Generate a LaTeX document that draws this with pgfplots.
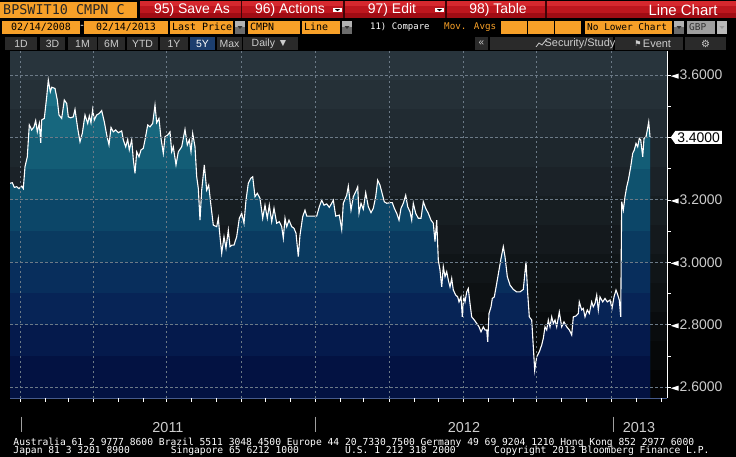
\documentclass[border=0pt]{standalone}
\usepackage{pgfplots}
\pgfplotsset{compat=1.18}
\usepackage{pgfplotstable}
\usetikzlibrary{shapes.symbols}
\usepackage{fontspec}
\setmainfont{Liberation Sans}
\newfontfamily\mono{DejaVu Sans Mono}
\newfontfamily\dejavu{DejaVu Sans}
\definecolor{bbor}{RGB}{247,160,40}
\definecolor{bbredt}{RGB}{214,40,46}
\definecolor{bbred}{RGB}{190,22,30}
\definecolor{bbredb}{RGB}{160,12,20}
\definecolor{bbgray}{RGB}{205,205,205}
\definecolor{btn}{RGB}{42,42,42}
\definecolor{btnblue}{RGB}{28,62,110}
\definecolor{xaxc}{RGB}{70,90,140}
\definecolor{gridc}{RGB}{108,122,135}
\definecolor{bgtop}{RGB}{40,52,60}
\definecolor{a1}{RGB}{3,18,66}
\definecolor{a2}{RGB}{5,26,76}
\definecolor{a3}{RGB}{7,36,86}
\definecolor{a4}{RGB}{8,46,92}
\definecolor{a5}{RGB}{10,58,96}
\definecolor{a6}{RGB}{12,70,104}
\definecolor{a7}{RGB}{15,82,110}
\definecolor{a8}{RGB}{19,93,118}
\definecolor{a9}{RGB}{23,103,126}
\definecolor{a10}{RGB}{27,112,134}
\newcommand{\fs}[1]{\fontsize{#1}{#1}\selectfont}
\newcommand{\ptr}{\tikz[baseline=-0.5ex]\fill[white] (0,0) -- (8bp,2.6bp) -- (8bp,-2.6bp) -- cycle;\hspace{1bp}}
\newcommand{\tagbox}[1]{\tikz[baseline=(n.base)]\node[fill=white,text=black,shape=signal,signal to=west,signal pointer angle=110,inner xsep=2bp,inner ysep=1.6bp](n){#1};}
\newcommand{\bands}{%
  \foreach \l/\u/\c in {2.3/2.7/a1,2.7/2.8/a2,2.8/2.9/a3,2.9/3.0/a4,3.0/3.1/a5,3.1/3.2/a6,3.2/3.3/a7,3.3/3.4/a8,3.4/3.5/a9,3.5/3.8/a10}{%
    \pgfsetfillcolor{\c}%
    \pgfpathrectanglecorners{\pgfplotspointaxisxy{0}{\l}}{\pgfplotspointaxisxy{700}{\u}}%
    \pgfusepath{fill}}}

% x: horizontal chart position (quarterly gridlines at year quarters), y: rate
\pgfplotstableread{
x y
10 3.253
12.3 3.255
14.3 3.240
16.7 3.242
19 3.236
21.7 3.244
23.3 3.236
25 3.306
27.3 3.338
29.3 3.440
31.7 3.424
34 3.434
35.7 3.454
37.3 3.418
39.3 3.445
40.7 3.383
41.7 3.456
44.3 3.461
46.7 3.530
48.3 3.584
50.3 3.546
51.7 3.561
55 3.557
57.3 3.520
59 3.472
61.7 3.461
64.3 3.520
66.7 3.509
68.3 3.466
70.7 3.463
73.3 3.466
75 3.490
77.7 3.429
80 3.386
82.3 3.413
85 3.472
87.7 3.445
89.3 3.469
91 3.447
92.7 3.490
94.3 3.456
96.7 3.472
99.3 3.477
101.7 3.486
104.3 3.450
106.7 3.408
109 3.376
111 3.432
113.3 3.418
115.7 3.424
118.3 3.415
121.7 3.421
123.3 3.392
125.7 3.370
127.7 3.394
129.3 3.360
131.7 3.392
133.3 3.330
135 3.285
136.7 3.354
139 3.338
141 3.360
143.3 3.365
145 3.392
147.7 3.440
150 3.434
152.7 3.445
155 3.504
156.7 3.447
159 3.461
161 3.397
163.3 3.349
165 3.402
167.7 3.408
170 3.418
171.7 3.354
173.3 3.370
176 3.312
178.3 3.354
181.7 3.370
185 3.426
187.3 3.376
189.3 3.392
191 3.354
192.7 3.413
195 3.370
196.7 3.274
198.3 3.237
200 3.135
201.7 3.231
204.3 3.312
206.7 3.231
208.7 3.247
210.7 3.189
213.3 3.119
216.7 3.114
218.3 3.141
220 3.082
221.7 3.029
224 3.082
226 3.045
228.3 3.103
230 3.050
232 3.055
234 3.055
236.7 3.082
239.3 3.141
241.7 3.157
244 3.125
246 3.199
248.3 3.253
250.7 3.269
252.7 3.274
255 3.210
257.3 3.221
260 3.205
262.7 3.141
265 3.183
267.3 3.141
269.3 3.183
271.7 3.130
274 3.173
276.7 3.125
279.3 3.130
281.7 3.114
283.3 3.077
285 3.141
286.7 3.114
289 3.135
291.7 3.114
294 3.109
296 3.093
298.3 3.018
300 3.087
302.7 3.146
305 3.167
306.7 3.148
316.7 3.148
319.3 3.178
321.7 3.199
324 3.183
326.7 3.187
329.3 3.176
331.7 3.189
333.3 3.199
335.7 3.148
339.3 3.151
341.7 3.105
343.3 3.189
346.7 3.215
348.3 3.244
351 3.167
353.3 3.210
355.7 3.226
357.7 3.242
359 3.157
361 3.189
363.3 3.170
365.7 3.223
368.3 3.178
371 3.159
373.3 3.173
375.7 3.210
377.7 3.263
380 3.247
381.7 3.226
384.3 3.194
386.7 3.189
390 3.191
392.3 3.191
394.3 3.173
396.7 3.157
399 3.135
401 3.173
403.3 3.189
405.7 3.215
407.7 3.178
410 3.162
411.7 3.135
413.3 3.189
415.7 3.157
418.3 3.141
421 3.141
423.3 3.194
425.7 3.173
428.3 3.157
431 3.135
433.3 3.125
435 3.066
436.7 3.135
438.3 3.007
440 2.975
441.7 2.921
443.3 2.986
445 2.954
446.7 2.970
448.3 2.943
450 2.921
451.7 2.948
453.3 2.911
455.7 2.895
457.7 2.889
459 2.873
461 2.889
462.3 2.825
463.7 2.889
465 2.873
466.7 2.905
468.3 2.916
470 2.868
471.7 2.825
474.3 2.815
476.7 2.804
479 2.793
481 2.777
483.3 2.793
485 2.783
486.7 2.783
487.7 2.745
489 2.836
491 2.857
492.3 2.884
494.3 2.889
496.7 2.932
499 2.975
501 3.012
503.3 3.050
505 3.018
507.3 2.954
510 2.927
513.3 2.913
516.7 2.905
520 2.905
523.3 2.913
526 3.002
527.7 2.900
529.3 2.825
531.7 2.815
533.3 2.729
534.7 2.654
536.7 2.697
539.3 2.713
541.7 2.735
543.3 2.756
545 2.793
546.7 2.783
548.3 2.815
550 2.793
551.7 2.825
553.3 2.804
555 2.815
556.7 2.793
559.3 2.841
561.7 2.793
564 2.809
566.7 2.793
569.3 2.783
571.7 2.767
573.3 2.825
576 2.828
578.3 2.836
579.3 2.873
581.7 2.847
583.3 2.852
585 2.825
587.3 2.847
589.3 2.836
591.7 2.873
593.3 2.857
595 2.868
596.7 2.895
598.3 2.847
600 2.889
602.7 2.873
605 2.884
607.3 2.873
610 2.879
612 2.852
614 2.889
616 2.911
617.3 2.900
619.3 2.879
620.7 2.825
621.7 3.194
623.3 3.167
625 3.210
626.7 3.242
628.3 3.263
630.7 3.306
632.7 3.349
634.3 3.360
636 3.381
637.7 3.370
639.3 3.397
640.7 3.392
642.7 3.338
644 3.397
646 3.402
647.3 3.424
648.7 3.450
650 3.402
}\series

\begin{document}
\begin{tikzpicture}
\fill[black] (0,0) rectangle (736bp,-457bp);
% banded dark chart background
\begin{scope}[x=1bp,y=1bp]
\foreach \i in {0,...,11}{
  \pgfmathsetmacro\p{max(0,100-8.5*\i)}
  \fill[bgtop!\p!black] (10,{-51-\i*29}) rectangle (667,{-51-(\i+1)*29});}
\end{scope}
\begin{axis}[
  at={(10bp,-398bp)}, anchor=south west,
  scale only axis, width=657bp, height=347bp,
  xmin=10, xmax=667, ymin=2.565, ymax=3.677,
  axis x line*=bottom, axis y line*=right,
  x axis line style={draw=xaxc, line width=1bp},
  y axis line style={draw=white, line width=0.8bp},
  xtick={20.7,93.3,166.7,241.7,315,389.7,463,536.3,611.3},
  xticklabels={},
  xmajorgrids=true,
  extra x ticks={45,68.3,118.3,143.3,191.7,216.7,265,290,340,363.3,414,438,488,513,561.3,586.3,636.3,661.3},
  extra x tick labels={},
  extra x tick style={grid=none},
  ytick={2.6,2.7,2.8,2.9,3.0,3.1,3.2,3.3,3.4,3.5,3.6},
  yticklabels={\ptr 2.6000,,\ptr 2.8000,,\ptr 3.0000,,\ptr 3.2000,,\tagbox{3.4000},,\ptr 3.6000},
  ymajorgrids=false,
  extra y ticks={2.6,2.8,3.0,3.2,3.4,3.6},
  extra y tick labels={},
  extra y tick style={grid=major},
  major grid style={gridc, dash pattern=on 2.5bp off 2.5bp, line width=0.8bp},
  major tick length=3.5bp,
  tick align=outside,
  tick style={draw=white, line width=0.7bp},
  every tick/.append style={draw=white},
  yticklabel pos=right,
  yticklabel style={anchor=west, inner sep=0pt, text=bbgray, font=\fs{14}},
  axis on top,
]
\addplot[draw=none, fill=a5, path picture={\bands}] table[x=x,y=y] {\series} \closedcycle;
\addplot[white, line width=1.1bp] table[x=x,y=y] {\series};
\end{axis}

\begin{scope}[x=1bp,y=1bp]
% ---- Row 1
\fill[bbor] (0,-2) rectangle (137,-17.5);
\node[anchor=west,inner sep=0,font=\mono\fs{13.5},text=black!85] at (3,-9.8) {BPSWIT10 CMPN C};
\fill[bbred] (140,-1) rectangle (736,-17.5);
\fill[bbredt] (140,-1) rectangle (736,-6);
\fill[bbredb] (140,-13) rectangle (736,-17.5);
\foreach \xx in {241.5,344,446,546}{\fill[black!60!bbredb] (\xx-0.8,-1) rectangle (\xx+0.8,-17.5);}
\node[white,font=\fs{14}] at (192,-9.5) {95) Save As};
\node[white,font=\fs{14}] at (290,-9.5) {96) Actions};
\fill[white] (333,-8) rectangle (342,-12);
\fill[black] (335,-9.2) -- (340,-9.2) -- (337.5,-11.2) -- cycle;
\node[white,font=\fs{14}] at (392,-9.5) {97) Edit};
\fill[white] (435,-8) rectangle (444,-12);
\fill[black] (437,-9.2) -- (442,-9.2) -- (439.5,-11.2) -- cycle;
\node[white,font=\fs{14}] at (498,-9.5) {98) Table};
\node[white,font=\fs{15}] at (683,-9.8) {Line Chart};
% ---- Row 2
\fill[bbor] (2,-20.5) rectangle (80,-34);
\node[font=\mono\fs{10},text=black] at (41,-27.2) {02/14/2008};
\node[font=\mono\fs{10},text=white] at (82,-27.2) {-};
\fill[bbor] (84,-20.5) rectangle (168,-34);
\node[font=\mono\fs{10},text=black] at (126,-27.2) {02/14/2013};
\fill[bbor] (170,-20.5) rectangle (233,-34);
\node[anchor=west,inner sep=0,font=\mono\fs{10},text=black] at (172,-27.2) {Last Price};
\fill[bbor] (248,-20.5) rectangle (300,-34);
\node[anchor=west,inner sep=0,font=\mono\fs{10},text=black] at (250,-27.2) {CMPN};
\fill[bbor] (302,-20.5) rectangle (340,-34);
\node[anchor=west,inner sep=0,font=\mono\fs{10},text=black] at (304,-27.2) {Line};
\foreach \xx in {235,342,674}{
  \fill[gray!60] (\xx,-20.5) rectangle (\xx+10,-34);
  \fill[gray!85!black] (\xx,-27) rectangle (\xx+10,-34);
  \fill[black!80] (\xx+2.5,-26) -- (\xx+7.5,-26) -- (\xx+5,-29) -- cycle;}
\node[anchor=west,inner sep=0,font=\mono\fs{9},text=white] at (370,-27.2) {11) Compare};
\node[anchor=west,inner sep=0,font=\mono\fs{9.3},text=bbor] at (444,-27.2) {Mov. Avgs};
\fill[bbor] (501,-20.5) rectangle (527,-34);
\fill[bbor] (528,-20.5) rectangle (554,-34);
\fill[bbor] (555,-20.5) rectangle (581,-34);
\fill[bbor] (585,-20.5) rectangle (672,-34);
\node[anchor=west,inner sep=0,font=\mono\fs{9.5},text=black] at (587,-27.2) {No Lower Chart};
\fill[gray!75] (687,-20.5) rectangle (715,-34);
\node[anchor=west,inner sep=0,font=\mono\fs{9.5},text=black!80] at (689,-27.2) {GBP};
\fill[gray!55] (717,-20.5) rectangle (727,-34);
\fill[gray!80] (719.5,-26) -- (724.5,-26) -- (722,-29) -- cycle;
% ---- Row 3
\foreach \a/\b/\t in {5/37/1D,40/65/3D,68/97/1M,98/125/6M,127/158/YTD,160/188/1Y,217/242/Max}{
  \fill[btn] (\a,-37) rectangle (\b,-50);
  \node[font=\fs{10.5},text=bbgray] at ({(\a+\b)/2},-43.5) {\t};}
\fill[btnblue] (190,-37) rectangle (215,-50);
\node[font=\fs{10.5},text=white] at (202.5,-43.5) {5Y};
\fill[btn] (243,-37) rectangle (298,-50);
\node[font=\fs{10.5},text=bbgray] at (270,-43.5) {Daily ▼};
\fill[btn] (475,-37) rectangle (488,-50);
\node[font=\fs{10},text=bbgray] at (481.5,-43.5) {«};
\fill[btn] (490,-37) rectangle (613,-50);
\draw[bbgray, line width=0.8] (536,-47) -- (539,-43) -- (542,-45) -- (546,-40);
\node[font=\fs{11},text=bbgray] at (580,-43.5) {Security/Study};
\fill[btn] (615,-37) rectangle (683,-50);
\node[font=\dejavu\fs{8},text=bbgray] at (638,-43.5) {⚑};
\node[font=\fs{11},text=bbgray] at (657,-43.5) {Event};
\fill[btn] (685,-37) rectangle (726,-50);
\node[font=\dejavu\fs{10},text=bbgray] at (705.5,-43.5) {⚙};
% ---- Footer
\foreach \xx in {21,315,613}{\draw[gray!75, line width=0.8] (\xx,-416.5) -- (\xx,-432);}
\node[anchor=base,inner sep=0,font=\fs{14.5},text=bbgray] at (168,-432.3) {2011};
\node[anchor=base,inner sep=0,font=\fs{14.5},text=bbgray] at (464,-432.3) {2012};
\node[anchor=base,inner sep=0,font=\fs{14.5},text=bbgray] at (639,-432.3) {2013};
\node[anchor=base west,inner sep=0,text depth=0pt,font=\mono\fs{9.7},text=white] at (13.3,-445) {Australia 61 2 9777 8600 Brazil 5511 3048 4500 Europe 44 20 7330 7500 Germany 49 69 9204 1210 Hong Kong 852 2977 6000};
\node[anchor=base west,inner sep=0,text height=6bp,font=\mono\fs{9.7},text=white] at (13.3,-453.3) {Japan 81 3 3201 8900};
\node[anchor=base west,inner sep=0,text height=6bp,font=\mono\fs{9.7},text=white] at (170.7,-453.3) {Singapore 65 6212 1000};
\node[anchor=base west,inner sep=0,text height=6bp,font=\mono\fs{9.7},text=white] at (345,-453.3) {U.S. 1 212 318 2000};
\node[anchor=base west,inner sep=0,text height=6bp,font=\mono\fs{9.7},text=white] at (494,-453.3) {Copyright 2013 Bloomberg Finance L.P.};
\end{scope}
\pgfresetboundingbox
\path[use as bounding box] (0,0) rectangle (736bp,-457bp);
\end{tikzpicture}
\end{document}
